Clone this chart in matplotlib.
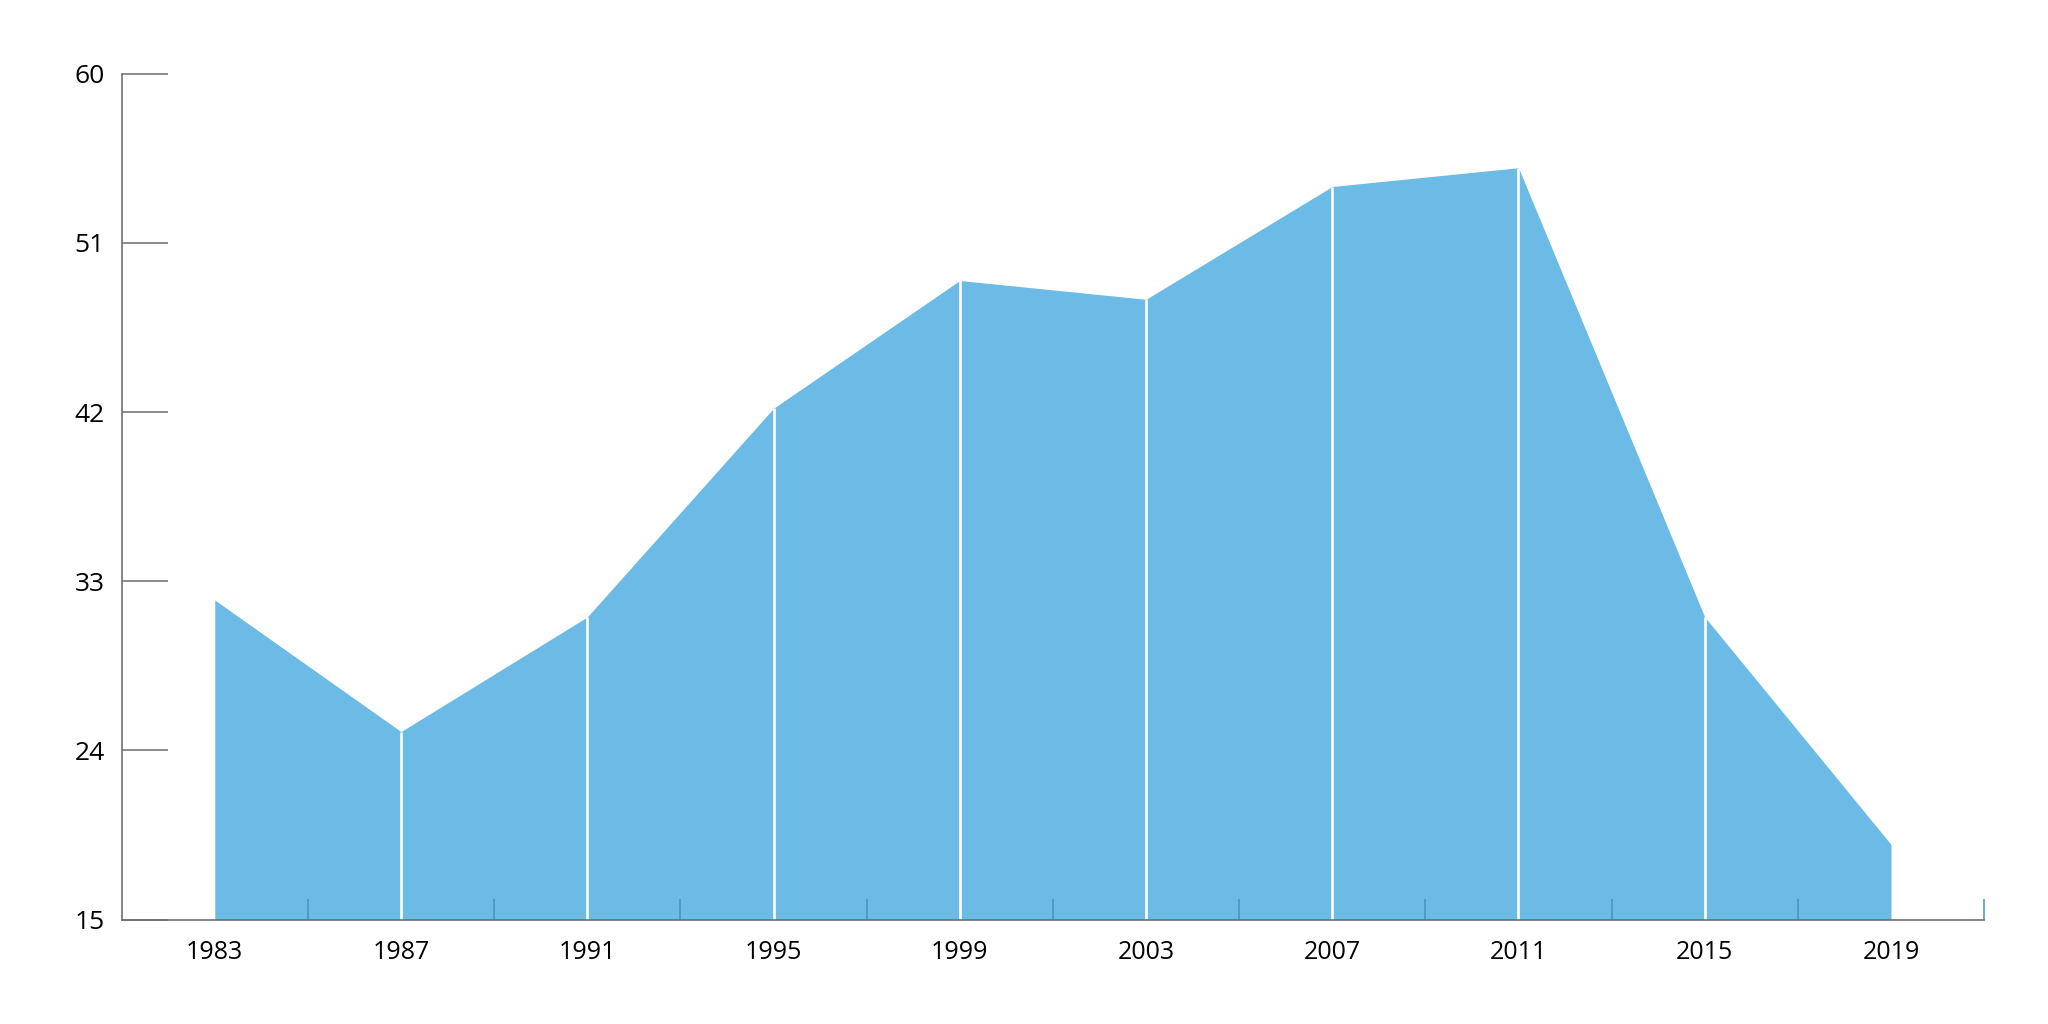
import matplotlib
matplotlib.use('Agg')
import matplotlib.pyplot as plt
from matplotlib.ticker import FixedLocator

plt.rcParams['font.family'] = ['Open Sans', 'DejaVu Sans']

years = [1983, 1987, 1991, 1995, 1999, 2003, 2007, 2011, 2015, 2019]
values = [32.0, 25.0, 31.1, 42.2, 49.0, 48.0, 54.0, 55.0, 31.1, 19.0]
y_ticks = [15, 24, 33, 42, 51, 60]
minor_years = [1985, 1989, 1993, 1997, 2001, 2005, 2009, 2013, 2017, 2021]

fill_color = '#6cbbe6'
axis_color = '#6e6e6e'


def main():
    fig = plt.figure(figsize=(20.48, 10.24), dpi=100)
    ax = fig.add_axes([0.0594, 0.102, 0.9094, 0.826])

    ax.fill_between(years, 15, values, color=fill_color, linewidth=0, zorder=1)
    # white separators at the inner data points
    ax.vlines(years[1:-1], 15, values[1:-1], colors='white', linewidth=1.9, zorder=1.5)

    ax.set_xlim(1981, 2021)
    ax.set_ylim(15, 60)

    for side in ('top', 'right'):
        ax.spines[side].set_visible(False)
    for side in ('left', 'bottom'):
        ax.spines[side].set_color(axis_color)
        ax.spines[side].set_linewidth(1.2)

    ax.set_yticks(y_ticks)
    ax.tick_params(axis='y', direction='in', length=33, width=1.1, color=axis_color,
                   pad=12, labelsize=19)

    ax.set_xticks(years)
    ax.tick_params(axis='x', which='major', direction='in', length=0, pad=15, labelsize=18)
    ax.xaxis.set_minor_locator(FixedLocator(minor_years))
    ax.tick_params(axis='x', which='minor', direction='in', length=15, width=1.1,
                   color='#4a8fc0')
    ax.xaxis.get_minor_ticks()[-1].tick1line.set_color(axis_color)

    fig.savefig('out.png', dpi=100)
    plt.close(fig)


if __name__ == '__main__':
    main()
